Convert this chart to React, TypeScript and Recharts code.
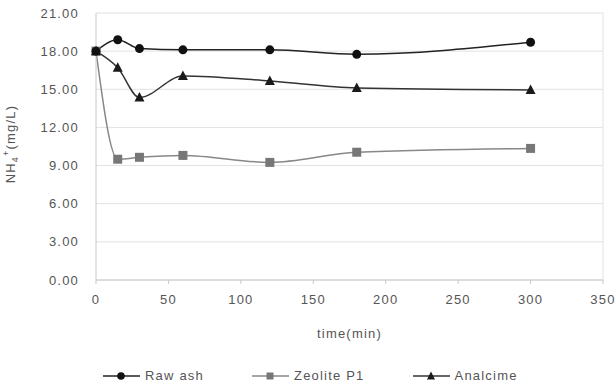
import React from "react";
import {
  LineChart,
  Line,
  XAxis,
  YAxis,
  CartesianGrid,
  ReferenceLine,
} from "recharts";

const times = [0, 15, 30, 60, 120, 180, 300];
const rawAsh = [18.0, 18.9, 18.2, 18.1, 18.1, 17.75, 18.7];
const zeoliteP1 = [18.0, 9.5, 9.65, 9.8, 9.25, 10.05, 10.35];
const analcime = [18.0, 16.7, 14.35, 16.05, 15.65, 15.1, 14.95];

const xTicks = [0, 50, 100, 150, 200, 250, 300, 350];
const yTicks = [0, 3, 6, 9, 12, 15, 18, 21];

const data = times.map((t, i) => ({
  time: t,
  raw: rawAsh[i],
  zeo: zeoliteP1[i],
  ana: analcime[i],
}));

const FONT = "'Liberation Sans', Arial, sans-serif";
const TEXT = "#555";
const SPACING = 1.2;

const circleDot = (props: any) => {
  const { cx, cy, index } = props;
  return <circle key={`c${index}`} cx={cx} cy={cy} r={4.5} fill="#111" />;
};

const squareDot = (props: any) => {
  const { cx, cy, index } = props;
  return (
    <rect key={`s${index}`} x={cx - 4.5} y={cy - 4.5} width={9} height={9} fill="#777" />
  );
};

const triangleDot = (props: any) => {
  const { cx, cy, index } = props;
  return (
    <polygon
      key={`t${index}`}
      points={`${cx},${cy - 5.5} ${cx + 5},${cy + 4} ${cx - 5},${cy + 4}`}
      fill="#1a1a1a"
    />
  );
};

const legendItems = [
  { name: "Raw ash", color: "#222", marker: "circle" },
  { name: "Zeolite P1", color: "#888", marker: "square" },
  { name: "Analcime", color: "#333", marker: "triangle" },
];

function LegendMarker({ type }: { type: string }) {
  if (type === "circle") return <circle cx={18} cy={6} r={3.8} fill="#111" />;
  if (type === "square") return <rect x={14.5} y={2.5} width={7} height={7} fill="#777" />;
  return <polygon points="18,1.5 22,9.5 14,9.5" fill="#1a1a1a" />;
}

function CustomLegend() {
  return (
    <div
      style={{
        display: "flex",
        gap: 48,
        fontFamily: FONT,
        fontSize: 13,
        letterSpacing: SPACING,
        color: TEXT,
      }}
    >
      {legendItems.map((it) => (
        <span key={it.name} style={{ display: "flex", alignItems: "center", gap: 5 }}>
          <svg width={37} height={12}>
            <line x1={0} y1={6} x2={37} y2={6} stroke={it.color} strokeWidth={1.5} />
            <LegendMarker type={it.marker} />
          </svg>
          {it.name}
        </span>
      ))}
    </div>
  );
}

function YLabel() {
  return (
    <text
      x={15}
      y={144}
      transform="rotate(-90 15 144)"
      textAnchor="middle"
      fontFamily={FONT}
      fontSize={13}
      letterSpacing={SPACING}
      fill={TEXT}
    >
      NH
      <tspan fontSize={9} dy={3}>4</tspan>
      <tspan fontSize={9} dy={-9}>+</tspan>
      <tspan dy={6}>(mg/L)</tspan>
    </text>
  );
}

const tickStyle = { fontSize: 13, fill: TEXT, fontFamily: FONT, letterSpacing: SPACING };

export default function App() {
  return (
    <div style={{ position: "absolute", left: 0, top: 0, width: 616, height: 390, background: "#fff" }}>
      <LineChart
        width={616}
        height={390}
        data={data}
        margin={{ top: 13, right: 13, left: 36, bottom: 90 }}
      >
        <CartesianGrid vertical={false} stroke="#e2e2e2" />
        <XAxis
          dataKey="time"
          type="number"
          domain={[0, 350]}
          ticks={xTicks}
          tick={tickStyle}
          axisLine={{ stroke: "#c8c8c8" }}
          tickLine={{ stroke: "#c8c8c8" }}
          tickSize={4}
          tickMargin={11}
          height={20}
          label={{
            value: "time(min)",
            position: "insideBottom",
            offset: -38,
            fontSize: 13,
            fill: TEXT,
            fontFamily: FONT,
            letterSpacing: SPACING,
          }}
        />
        <YAxis
          type="number"
          domain={[0, 21]}
          ticks={yTicks}
          tickFormatter={(v: number) => v.toFixed(2)}
          tick={tickStyle}
          axisLine={{ stroke: "#c8c8c8" }}
          tickLine={false}
          tickSize={0}
          tickMargin={17}
          width={60}
          label={<YLabel />}
        />
        <ReferenceLine x={350} stroke="#e2e2e2" />
        <Line
          dataKey="zeo"
          type="monotone"
          stroke="#888"
          strokeWidth={1.5}
          dot={squareDot}
          isAnimationActive={false}
        />
        <Line
          dataKey="ana"
          type="monotone"
          stroke="#333"
          strokeWidth={1.5}
          dot={triangleDot}
          isAnimationActive={false}
        />
        <Line
          dataKey="raw"
          type="monotone"
          stroke="#222"
          strokeWidth={1.5}
          dot={circleDot}
          isAnimationActive={false}
        />
      </LineChart>
      <div style={{ position: "absolute", left: 103, top: 368 }}>
        <CustomLegend />
      </div>
    </div>
  );
}
